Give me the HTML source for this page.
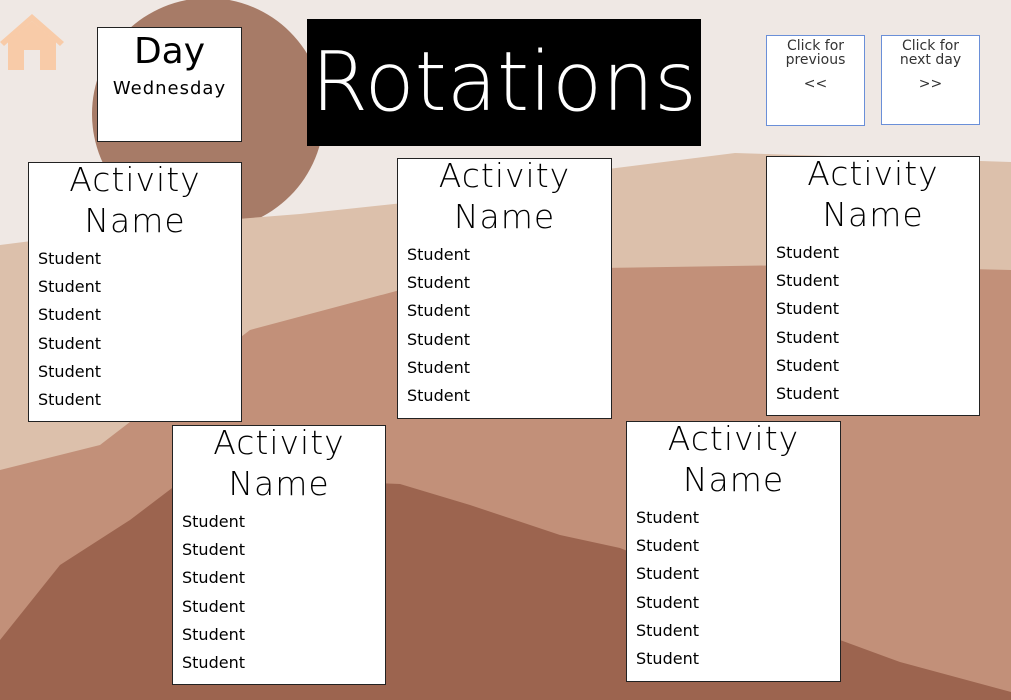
<!DOCTYPE html>
<html><head><style>
body{margin:0;width:1011px;height:700px;overflow:hidden;position:relative;background:#efe8e4;font-family:"DejaVu Sans","Liberation Sans",sans-serif}
.bx{position:absolute;background:#fff;border:1px solid #222;box-sizing:border-box}
.card .t{text-align:center;font-size:33px;line-height:41px;margin-top:-4px;letter-spacing:1px;font-family:"DejaVu Sans",sans-serif;font-weight:300}
.card .s{font-size:16px;line-height:28.2px;padding-left:9px;margin-top:4px}
.nav{position:absolute;background:#fff;border:1px solid #6a8fd8;box-sizing:border-box;text-align:center;font-size:14px;line-height:14px;color:#333;font-family:"DejaVu Sans",sans-serif}
</style></head><body>
<svg width="1011" height="700" style="position:absolute;left:0;top:0">
<circle cx="208" cy="114" r="116" fill="#a77b67"/>
<polygon points="0,245 150,226 300,214 450,198 600,170 735,153 1011,162 1011,700 0,700" fill="#dcc0ab"/>
<polygon points="0,470 100,445 250,330 400,290 600,268 800,265 1011,270 1011,700 0,700" fill="#c29079"/>
<polygon points="0,640 60,565 130,520 180,482 300,480 400,484 470,505 560,535 620,548 700,580 840,640 900,662 1011,692 1011,700 0,700" fill="#9c644f"/>
<g fill="#f8cba8"><polygon points="32,14 0,42 4,46 32,21 60,46 64,42"/><polygon points="8,42 32,21 56,42 56,70 40,70 40,50 24,50 24,70 8,70"/></g>
</svg>
<div class="bx" style="left:97px;top:27px;width:145px;height:115px;text-align:center">
<div style="font-size:36px;line-height:44px;margin-top:2px">Day</div>
<div style="font-size:18px;letter-spacing:1px;margin-top:4px">Wednesday</div></div>
<div style="position:absolute;left:307px;top:19px;width:394px;height:127px;background:#000;color:#fff;font-family:'DejaVu Sans',sans-serif;font-weight:300;font-size:82px;line-height:127px;text-align:center">Rotations</div>
<div class="nav" style="left:766px;top:35px;width:99px;height:91px;padding-top:3px">Click for<br>previous<div style="margin-top:10px">&lt;&lt;</div></div>
<div class="nav" style="left:881px;top:35px;width:99px;height:90px;padding-top:3px">Click for<br>next day<div style="margin-top:10px">&gt;&gt;</div></div>
<div class="bx card" style="left:28px;top:162px;width:214px;height:260px"><div class="t">Activity<br>Name</div><div class="s">Student<br>Student<br>Student<br>Student<br>Student<br>Student</div></div>
<div class="bx card" style="left:397px;top:158px;width:215px;height:261px"><div class="t">Activity<br>Name</div><div class="s">Student<br>Student<br>Student<br>Student<br>Student<br>Student</div></div>
<div class="bx card" style="left:766px;top:156px;width:214px;height:260px"><div class="t">Activity<br>Name</div><div class="s">Student<br>Student<br>Student<br>Student<br>Student<br>Student</div></div>
<div class="bx card" style="left:172px;top:425px;width:214px;height:260px"><div class="t">Activity<br>Name</div><div class="s">Student<br>Student<br>Student<br>Student<br>Student<br>Student</div></div>
<div class="bx card" style="left:626px;top:421px;width:215px;height:261px"><div class="t">Activity<br>Name</div><div class="s">Student<br>Student<br>Student<br>Student<br>Student<br>Student</div></div>
</body></html>
